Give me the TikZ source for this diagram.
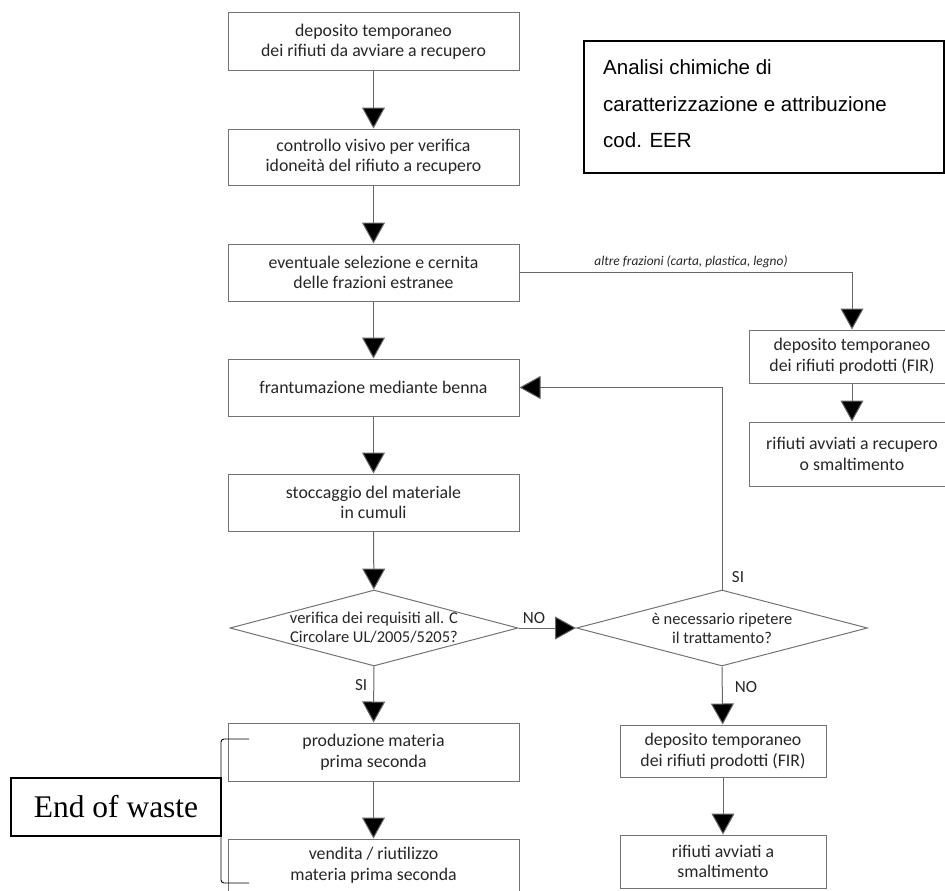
\documentclass[tikz,border=0pt]{standalone}
\usepackage{fontspec}
\setmainfont{Carlito}
\newfontfamily\arialf{Liberation Sans}
\newfontfamily\timesf{Liberation Serif}
\usetikzlibrary{shapes.geometric,arrows.meta,calc}
\begin{document}
\begin{tikzpicture}[x=1pt,y=-1pt,
  flowbox/.style={draw=black!55,line width=1pt,rectangle,minimum width=291pt,align=center,inner sep=0pt,font=\fontsize{17.8}{20.5}\selectfont,text=black!85},
  sidebox/.style={flowbox,minimum width=206pt},
  decision/.style={draw=black!55,line width=1pt,diamond,aspect=3.8,inner sep=0pt,align=center,font=\fontsize{16.5}{19}\selectfont,text=black!85},
  flow/.style={draw=black!60,line width=1pt,-{Triangle[length=21pt,width=23pt,fill=black]}},
  lbl/.style={font=\fontsize{17}{18}\selectfont,text=black!85,inner sep=0pt}
]
\useasboundingbox (0,0) rectangle (945,891);
% main column
\node[flowbox,minimum height=58pt] (b1) at (373.5,42) {deposito temporaneo\\dei rifiuti da avviare a recupero};
\node[flowbox,minimum height=56pt] (b2) at (373.5,157) {controllo visivo per verifica\\idoneità del rifiuto a recupero};
\node[flowbox,minimum height=57pt] (b3) at (373.5,272.5) {eventuale selezione e cernita\\delle frazioni estranee};
\node[flowbox,minimum height=57pt] (b4) at (373.5,387.5) {frantumazione mediante benna};
\node[flowbox,minimum height=57pt] (b5) at (373.5,502.5) {stoccaggio del materiale\\in cumuli};
\node[decision,minimum width=288pt,minimum height=76pt] (d1) at (374,628) {verifica dei requisiti all. C\\Circolare UL/2005/5205?};
\node[decision,minimum width=291pt,minimum height=76pt] (d2) at (722,628) {è necessario ripetere\\il trattamento?};
\node[flowbox,minimum height=58pt] (p1) at (373.5,752) {produzione materia\\prima seconda};
\node[flowbox,minimum height=52pt] (p2) at (373.5,865) {vendita / riutilizzo\\materia prima seconda};
% right lower column
\node[sidebox,minimum height=52pt] (f2) at (723,751) {deposito temporaneo\\dei rifiuti prodotti (FIR)};
\node[sidebox,minimum height=53pt] (s2) at (723,861.5) {rifiuti avviati a\\smaltimento};
% right upper column
\node[sidebox,minimum height=53pt] (f1) at (852,356.5) {deposito temporaneo\\dei rifiuti prodotti (FIR)};
\node[sidebox,minimum height=64pt] (r1) at (852,454) {rifiuti avviati a recupero\\o smaltimento};
% analisi box
\node[draw=black,line width=1.3pt,rectangle,minimum width=360pt,minimum height=132pt,inner sep=0pt] (an) at (764,107) {};
\node[anchor=west,align=left,inner sep=0pt,font=\arialf\fontsize{20.5}{36.5}\selectfont] (antext) at (603,104) {Analisi chimiche di\\caratterizzazione e attribuzione\\cod. EER};
% end of waste
\node[draw=black,line width=1.5pt,rectangle,minimum width=210pt,minimum height=58pt,inner sep=0pt,font=\timesf\fontsize{31.5}{34}\selectfont] (eow) at (116,807) {End of waste};
\coordinate (brt) at (249,739);
\coordinate (brb) at (249,883);
\draw[black,line width=0.9pt,rounded corners=3pt] (brt) -- (221,739) -- (221,883) -- (brb);
% connectors
\draw[flow] (b1) -- (b2);
\draw[flow] (b2) -- (b3);
\draw[flow] (b3) -- (b4);
\draw[flow] (b4) -- (b5);
\draw[flow] (b5) -- (d1);
\draw[flow] (d1) -- node[lbl,pos=0.33,left=6pt] {SI} (p1);
\draw[flow] (p1) -- (p2);
\draw[flow] (d1.east) -- (d2.west);
\node[lbl] (nolbl) at (534,618) {NO};
\coordinate (ret) at (722,387.5);
\draw[flow] (d2.north) -- (ret) -- (b4.east);
\node[lbl] (silbl) at (738,577) {SI};
\draw[flow] (d2.south) -- (f2);
\node[lbl] (nolbl2) at (746,687) {NO};
\draw[flow] (f2) -- (s2);
\coordinate (alt) at (852,272.5);
\draw[flow] (b3.east) -- (alt) -- (f1);
\node[inner sep=0pt,font=\itshape\fontsize{13.4}{15}\selectfont,text=black!85] (altlbl) at (691,262) {altre frazioni (carta, plastica, legno)};
\draw[flow] (f1) -- (r1);
\end{tikzpicture}
\end{document}
